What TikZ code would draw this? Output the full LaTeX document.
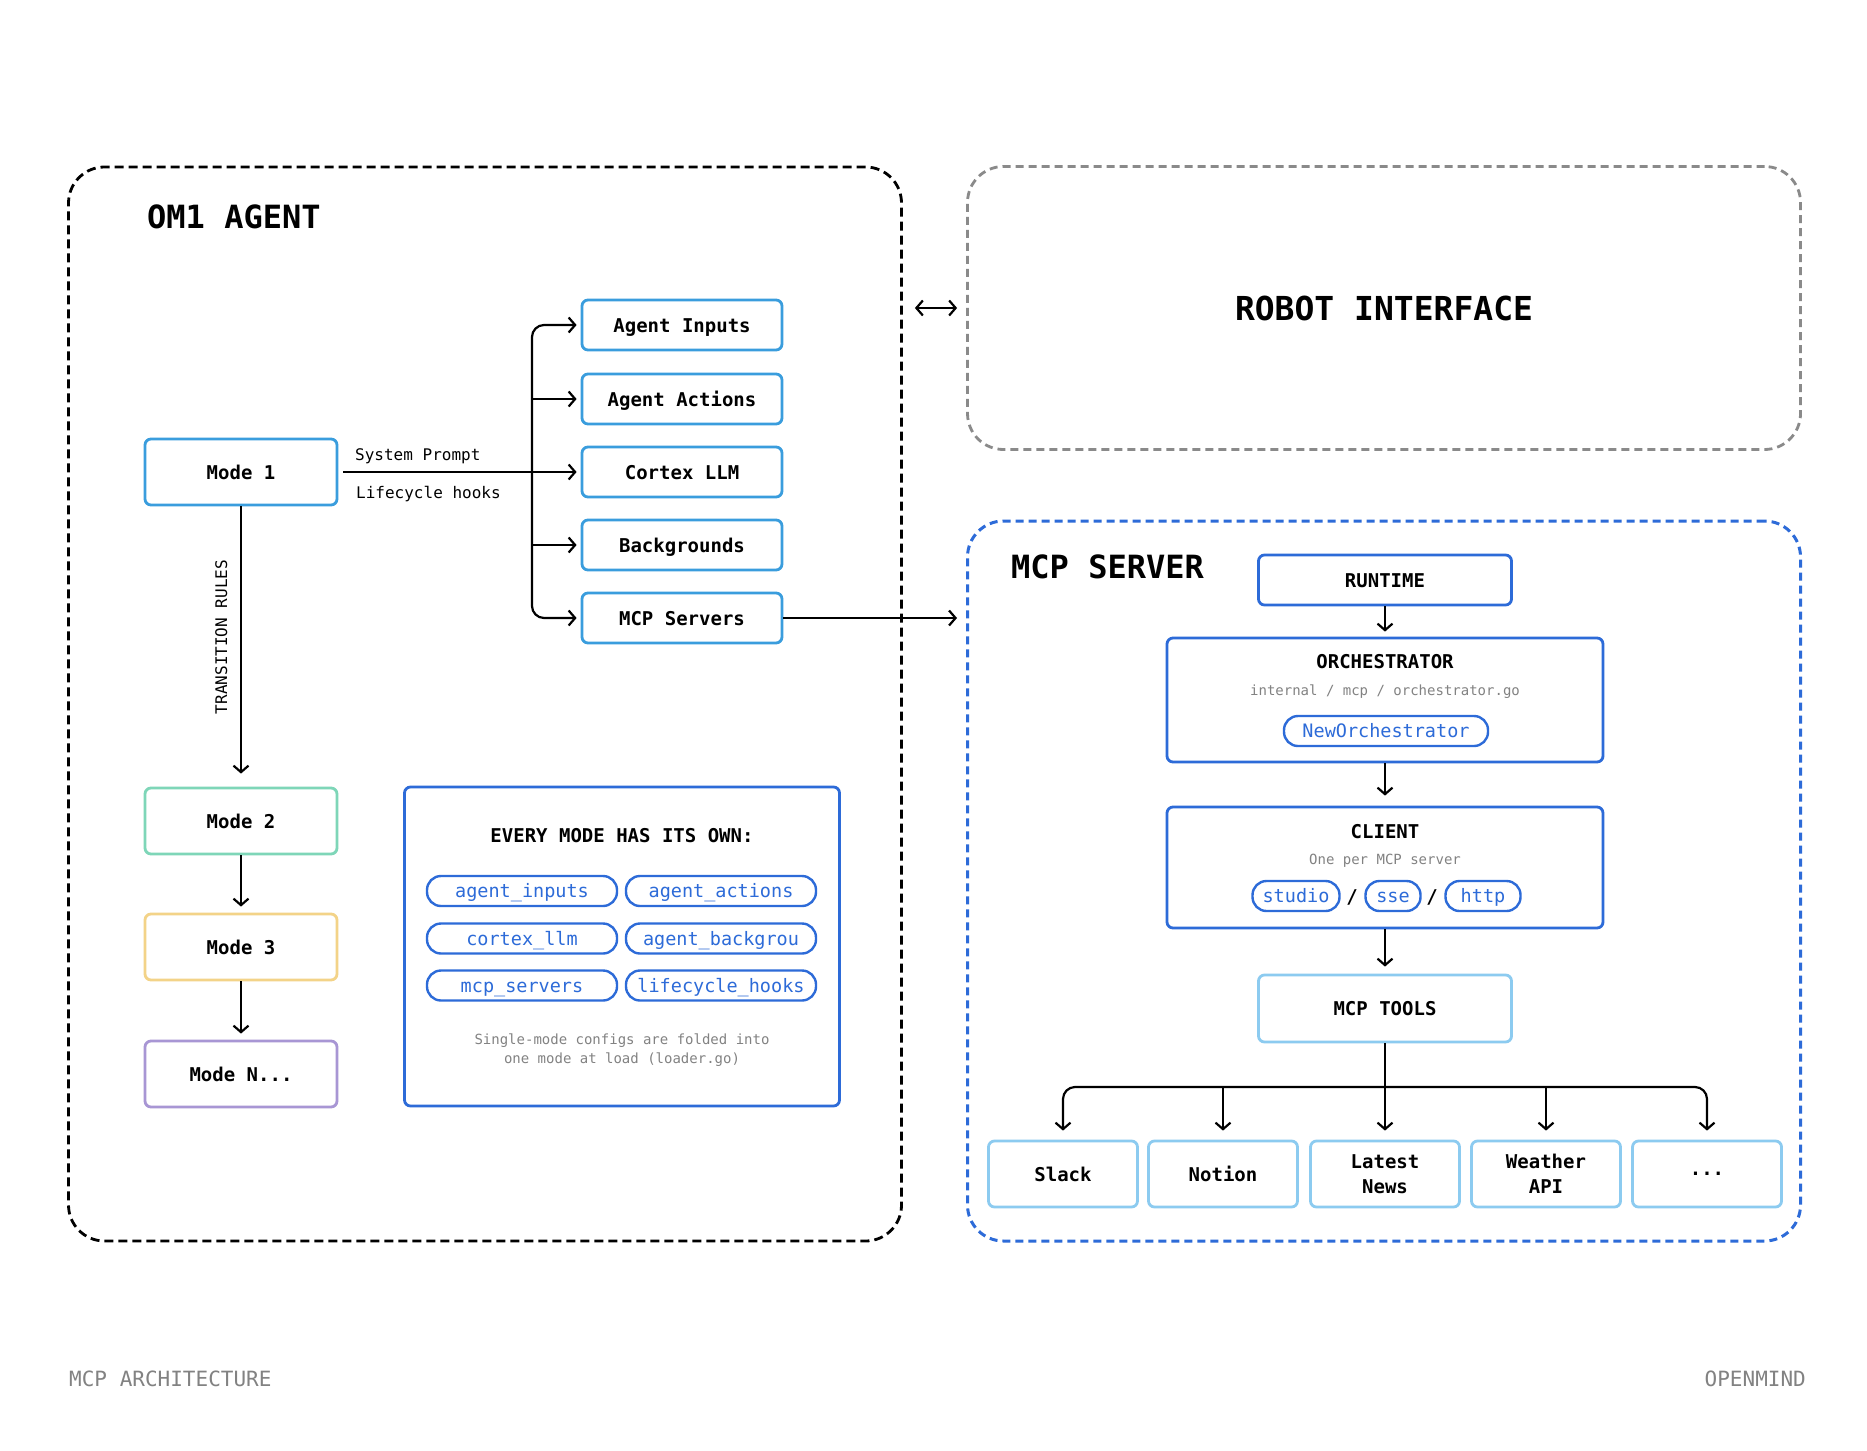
\documentclass[tikz,border=0pt]{standalone}
\usepackage{fontspec}
\setmonofont{DejaVu Sans Mono}
\usepackage{tikz}
\usetikzlibrary{arrows.meta}

\definecolor{modeblue}{RGB}{58,157,221}
\definecolor{modegreen}{RGB}{126,214,184}
\definecolor{modeyellow}{RGB}{243,211,136}
\definecolor{modepurple}{RGB}{168,150,212}
\definecolor{royal}{RGB}{45,107,216}
\definecolor{toolblue}{RGB}{140,203,240}
\definecolor{dashgray}{RGB}{138,138,138}
\definecolor{notegray}{RGB}{130,130,130}

\begin{document}
\begin{tikzpicture}[x=1pt,y=-1pt,
  >={Straight Barb[length=6.5pt,width=15pt]},
  conn/.style={draw=black,line width=2.2pt},
  capcenter/.style={text height=14pt,text depth=0pt},
  boxfont/.style={font=\ttfamily\bfseries\fontsize{19}{25}\selectfont},
  titletxt/.style={font=\ttfamily\bfseries\fontsize{32}{36}\selectfont,inner sep=0pt},
  smalltxt/.style={font=\ttfamily\fontsize{16}{20}\selectfont,inner sep=0pt,text height=12pt,text depth=0pt},
  notetxt/.style={font=\ttfamily\fontsize{14}{19.5}\selectfont,text=notegray,inner sep=0pt},
  foottxt/.style={font=\ttfamily\fontsize{21}{24}\selectfont,text=notegray,inner sep=0pt},
  plainbox/.style={boxfont,rounded corners=6pt,line width=2.8pt,fill=white,inner sep=0pt,align=center},
  modebox/.style={plainbox,capcenter,minimum width=192pt,minimum height=66pt},
  partbox/.style={plainbox,capcenter,draw=modeblue,minimum width=200pt,minimum height=50pt},
  corebox/.style={plainbox,draw=royal,minimum width=436pt},
  toolbox/.style={plainbox,draw=toolblue,minimum width=149pt,minimum height=66pt},
  pill/.style={draw=royal,text=royal,rounded corners=14pt,line width=2.4pt,inner sep=0pt,
    minimum height=30pt,text height=13.5pt,text depth=0pt,font=\ttfamily\fontsize{18.5}{22}\selectfont},
  groupbox/.style={rounded corners=36pt,line width=2.8pt,minimum width=833pt,inner sep=0pt}
]
\useasboundingbox[fill=white] (0,0) rectangle (1867,1450);

% containers
\node[groupbox,draw=black,dash pattern=on 9pt off 5pt,minimum height=1074pt] (agent) at (485,704) {};
\node[groupbox,draw=dashgray,dash pattern=on 8pt off 5pt,minimum height=283pt,
  font=\ttfamily\bfseries\fontsize{33}{36}\selectfont] (robot) at (1384,308) {ROBOT INTERFACE};
\node[groupbox,draw=royal,dash pattern=on 8pt off 5pt,line width=3pt,minimum height=720pt] (server) at (1384,881) {};
\node[titletxt,anchor=west] (agenttitle) at (147,217) {OM1 AGENT};
\node[titletxt,anchor=west] (servertitle) at (1011,567) {MCP SERVER};

% modes
\node[modebox,draw=modeblue] (mode1) at (241,472) {Mode 1};
\node[modebox,draw=modegreen] (mode2) at (241,821) {Mode 2};
\node[modebox,draw=modeyellow] (mode3) at (241,947) {Mode 3};
\node[modebox,draw=modepurple] (modeN) at (241,1074) {Mode N...};
\node[smalltxt,rotate=90] (trules) at (221,637) {TRANSITION RULES};
\draw[conn,->,shorten >=13pt] (mode1) -- (mode2);
\draw[conn,->,shorten >=6pt] (mode2) -- (mode3);
\draw[conn,->,shorten >=6pt] (mode3) -- (modeN);

% mode parts
\node[partbox] (inputs) at (682,325) {Agent Inputs};
\node[partbox] (actions) at (682,399) {Agent Actions};
\node[partbox] (cortex) at (682,472) {Cortex LLM};
\node[partbox] (backgrounds) at (682,545) {Backgrounds};
\node[partbox] (mcps) at (682,618) {MCP Servers};
\coordinate (bus) at (532,472);
\node[smalltxt,anchor=west] (sysprompt) at (355,454) {System Prompt};
\node[smalltxt,anchor=west] (hooks) at (356,492) {Lifecycle hooks};
\draw[conn,->,shorten <=5pt,shorten >=4pt] (mode1.east) -- (cortex.west);
\draw[conn,->,rounded corners=12pt,shorten >=4pt] (bus) |- (inputs.west);
\draw[conn,->,rounded corners=12pt,shorten >=4pt] (bus) |- (mcps.west);
\draw[conn,->,shorten >=4pt] (bus |- actions.west) -- (actions.west);
\draw[conn,->,shorten >=4pt] (bus |- backgrounds.west) -- (backgrounds.west);

% every mode has its own
\node[plainbox,draw=royal,minimum width=435pt,minimum height=319pt] (every) at (622,946.5) {};
\node[boxfont,capcenter] (everytitle) at (622,835) {EVERY MODE HAS ITS OWN:};
\node[pill,minimum width=190pt] (pinputs) at (522,891) {agent\char`\_inputs};
\node[pill,minimum width=190pt] (pactions) at (721,891) {agent\char`\_actions};
\node[pill,minimum width=190pt] (pcortex) at (522,938.5) {cortex\char`\_llm};
\node[pill,minimum width=190pt] (pback) at (721,938.5) {agent\char`\_backgrou};
\node[pill,minimum width=190pt] (pservers) at (522,985.5) {mcp\char`\_servers};
\node[pill,minimum width=190pt] (phooks) at (721,985.5) {lifecycle\char`\_hooks};
\node[notetxt,align=center] (foldnote) at (622,1050) {Single-mode configs are folded into\\one mode at load (loader.go)};

% links between containers
\draw[conn,<->,shorten <=12pt,shorten >=9pt] (robot.west -| agent.east) -- (robot.west);
\draw[conn,->,shorten >=9pt] (mcps.east) -- (mcps.east -| server.west);

% mcp server
\node[plainbox,capcenter,draw=royal,minimum width=253pt,minimum height=50pt] (runtime) at (1385,580) {RUNTIME};
\node[corebox,minimum height=124pt] (orch) at (1385,700) {};
\node[boxfont,capcenter] (orchtitle) at (1385,661) {ORCHESTRATOR};
\node[notetxt] (orchpath) at (1385,692) {internal / mcp / orchestrator.go};
\node[pill,minimum width=204pt] (neworch) at (1386,731) {NewOrchestrator};
\node[corebox,minimum height=121pt] (client) at (1385,867.5) {};
\node[boxfont,capcenter] (clienttitle) at (1385,831) {CLIENT};
\node[notetxt] (clientnote) at (1385,861) {One per MCP server};
\node[pill,minimum width=87pt] (studio) at (1296,896) {studio};
\node[boxfont,capcenter] (slash1) at (1352,896) {/};
\node[pill,minimum width=55pt] (sse) at (1393,896) {sse};
\node[boxfont,capcenter] (slash2) at (1432,896) {/};
\node[pill,minimum width=75pt] (http) at (1483,896) {http};
\node[plainbox,capcenter,draw=toolblue,minimum width=253pt,minimum height=67pt] (tools) at (1385,1008.5) {MCP TOOLS};
\draw[conn,->,shorten >=5pt] (runtime) -- (orch);
\draw[conn,->,shorten >=10pt] (orch) -- (client);
\draw[conn,->,shorten >=7pt] (client) -- (tools);

\node[toolbox] (slack) at (1063,1174) {Slack};
\node[toolbox] (notion) at (1223,1174) {Notion};
\node[toolbox] (latest) at (1385,1174) {Latest\\News};
\node[toolbox] (weather) at (1546,1174) {Weather\\API};
\node[toolbox] (more) at (1707,1174) {...};
\coordinate (tbus) at (1385,1087);
\draw[conn] (tools) -- (tbus);
\draw[conn,->,rounded corners=12pt,shorten >=9pt] (tbus) -| (slack);
\draw[conn,->,rounded corners=12pt,shorten >=9pt] (tbus) -| (more);
\draw[conn,->,shorten >=9pt] (tbus -| notion) -- (notion);
\draw[conn,->,shorten >=9pt] (tbus) -- (latest);
\draw[conn,->,shorten >=9pt] (tbus -| weather) -- (weather);

% footer
\node[foottxt,anchor=west] (footleft) at (69,1379) {MCP ARCHITECTURE};
\node[foottxt,anchor=east] (footright) at (1806,1379) {OPENMIND};
\end{tikzpicture}
\end{document}
